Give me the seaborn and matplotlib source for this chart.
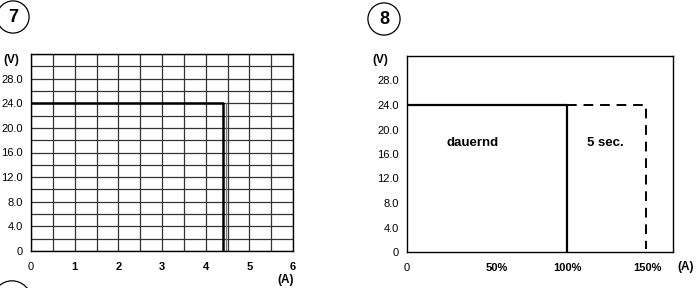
import numpy as np
import pandas as pd
import matplotlib
matplotlib.use("Agg")
import matplotlib.pyplot as plt
import seaborn as sns

# === Data ===
# chart 7: output limit in volts over current in amps
curve7_current = [0.0, 4.4, 4.4]
curve7_voltage = [24.0, 24.0, 0.0]
curve7_edge_current = [4.46, 4.46]
curve7_edge_voltage = [24.0, 0.0]

# chart 8: continuous and 5 second limits, current in % of rated
dauernd_load = [0, 100, 100]
dauernd_voltage = [24.0, 24.0, 0.0]
peak_load = [100, 149, 149]
peak_voltage = [24.0, 24.0, 0.5]

volt_ticks = [0, 4, 8, 12, 16, 20, 24, 28]
volt_labels = ["0", "4.0", "8.0", "12.0", "16.0", "20.0", "24.0", "28.0"]
amp_ticks = [0, 1, 2, 3, 4, 5, 6]
load_ticks = [0, 56, 100, 150]
load_labels = ["0", "50%", "100%", "150%"]

sns.set_style("white")
plt.rcParams["font.family"] = ["Liberation Sans", "DejaVu Sans"]
plt.rcParams["text.color"] = "black"

W, H = 696, 288
fig = plt.figure(figsize=(W / 100, H / 100), dpi=100)


def px_axes(x0, y0, x1, y1):
    return fig.add_axes([x0 / W, 1 - y1 / H, (x1 - x0) / W, (y1 - y0) / H])


def style_axes(ax):
    for s in ax.spines.values():
        s.set_color("black")
        s.set_linewidth(1.0)
    ax.tick_params(which="both", length=0, labelsize=8, colors="black")
    ax.tick_params(axis="x", pad=8)
    ax.tick_params(axis="y", pad=6)
    ax.set_xlabel("")
    ax.set_ylabel("")


# === Chart 7 ===
ax7 = px_axes(31, 54, 293, 251)
sns.lineplot(x=curve7_current, y=curve7_voltage, ax=ax7, sort=False,
             color="black", linewidth=1.8, estimator=None)
sns.lineplot(x=curve7_edge_current, y=curve7_edge_voltage, ax=ax7, sort=False,
             color="#777777", linewidth=0.9, estimator=None)
ax7.set_xlim(0, 6)
ax7.set_ylim(0, 32)
ax7.set_xticks(amp_ticks)
ax7.set_xticks(np.arange(0, 6.01, 0.5), minor=True)
ax7.set_yticks(volt_ticks)
ax7.set_yticks(np.arange(0, 32.01, 2), minor=True)
ax7.set_xticklabels([str(t) for t in amp_ticks])
ax7.set_yticklabels(volt_labels)
ax7.grid(which="both", color="#333333", linewidth=0.9)
ax7.set_axisbelow(True)
style_axes(ax7)
for i, lab in enumerate(ax7.get_xticklabels()):
    lab.set_fontweight("normal" if i == 0 else "bold")

# === Chart 8 ===
ax8 = px_axes(407, 56, 673, 252)
sns.lineplot(x=dauernd_load, y=dauernd_voltage, ax=ax8, sort=False,
             color="black", linewidth=1.6, estimator=None)
sns.lineplot(x=peak_load, y=peak_voltage, ax=ax8, sort=False,
             color="black", linewidth=1.4, linestyle=(0, (5, 3.5)), estimator=None)
ax8.set_xlim(0, 166)
ax8.set_ylim(0, 32)
ax8.set_xticks(load_ticks)
ax8.set_xticklabels(load_labels)
ax8.set_yticks(volt_ticks)
ax8.set_yticklabels(volt_labels)
ax8.grid(False)
style_axes(ax8)
for i, lab in enumerate(ax8.get_xticklabels()):
    lab.set_fontweight("normal" if i == 0 else "bold")
ax8.text(41, 17.8, "dauernd", fontsize=9.5, fontweight="bold", ha="center", va="center")
ax8.text(124, 17.8, "5 sec.", fontsize=9.5, fontweight="bold", ha="center", va="center")

# === Unit labels and panel numbers ===
fig.text(11 / W, 1 - 60 / H, "(V)", fontsize=8.5, fontweight="bold", ha="center", va="center")
fig.text(286 / W, 1 - 280 / H, "(A)", fontsize=8.5, fontweight="bold", ha="center", va="center")
fig.text(380 / W, 1 - 60 / H, "(V)", fontsize=8.5, fontweight="bold", ha="center", va="center")
fig.text(686 / W, 1 - 267 / H, "(A)", fontsize=8.5, fontweight="bold", ha="center", va="center")

for cx, cy, num in [(13, 17, "7"), (384, 19, "8")]:
    fig.text(cx / W, 1 - cy / H, num, fontsize=13, fontweight="bold", ha="center", va="center",
             bbox=dict(boxstyle="circle,pad=0.42", fc="white", ec="black", lw=0.9))

# partial circle at the bottom edge
fig.text(12 / W, 1 - 300 / H, " ", fontsize=12, ha="center", va="center",
         bbox=dict(boxstyle="circle,pad=0.7", fc="white", ec="black", lw=0.9))

fig.savefig("out.png", dpi=100)
